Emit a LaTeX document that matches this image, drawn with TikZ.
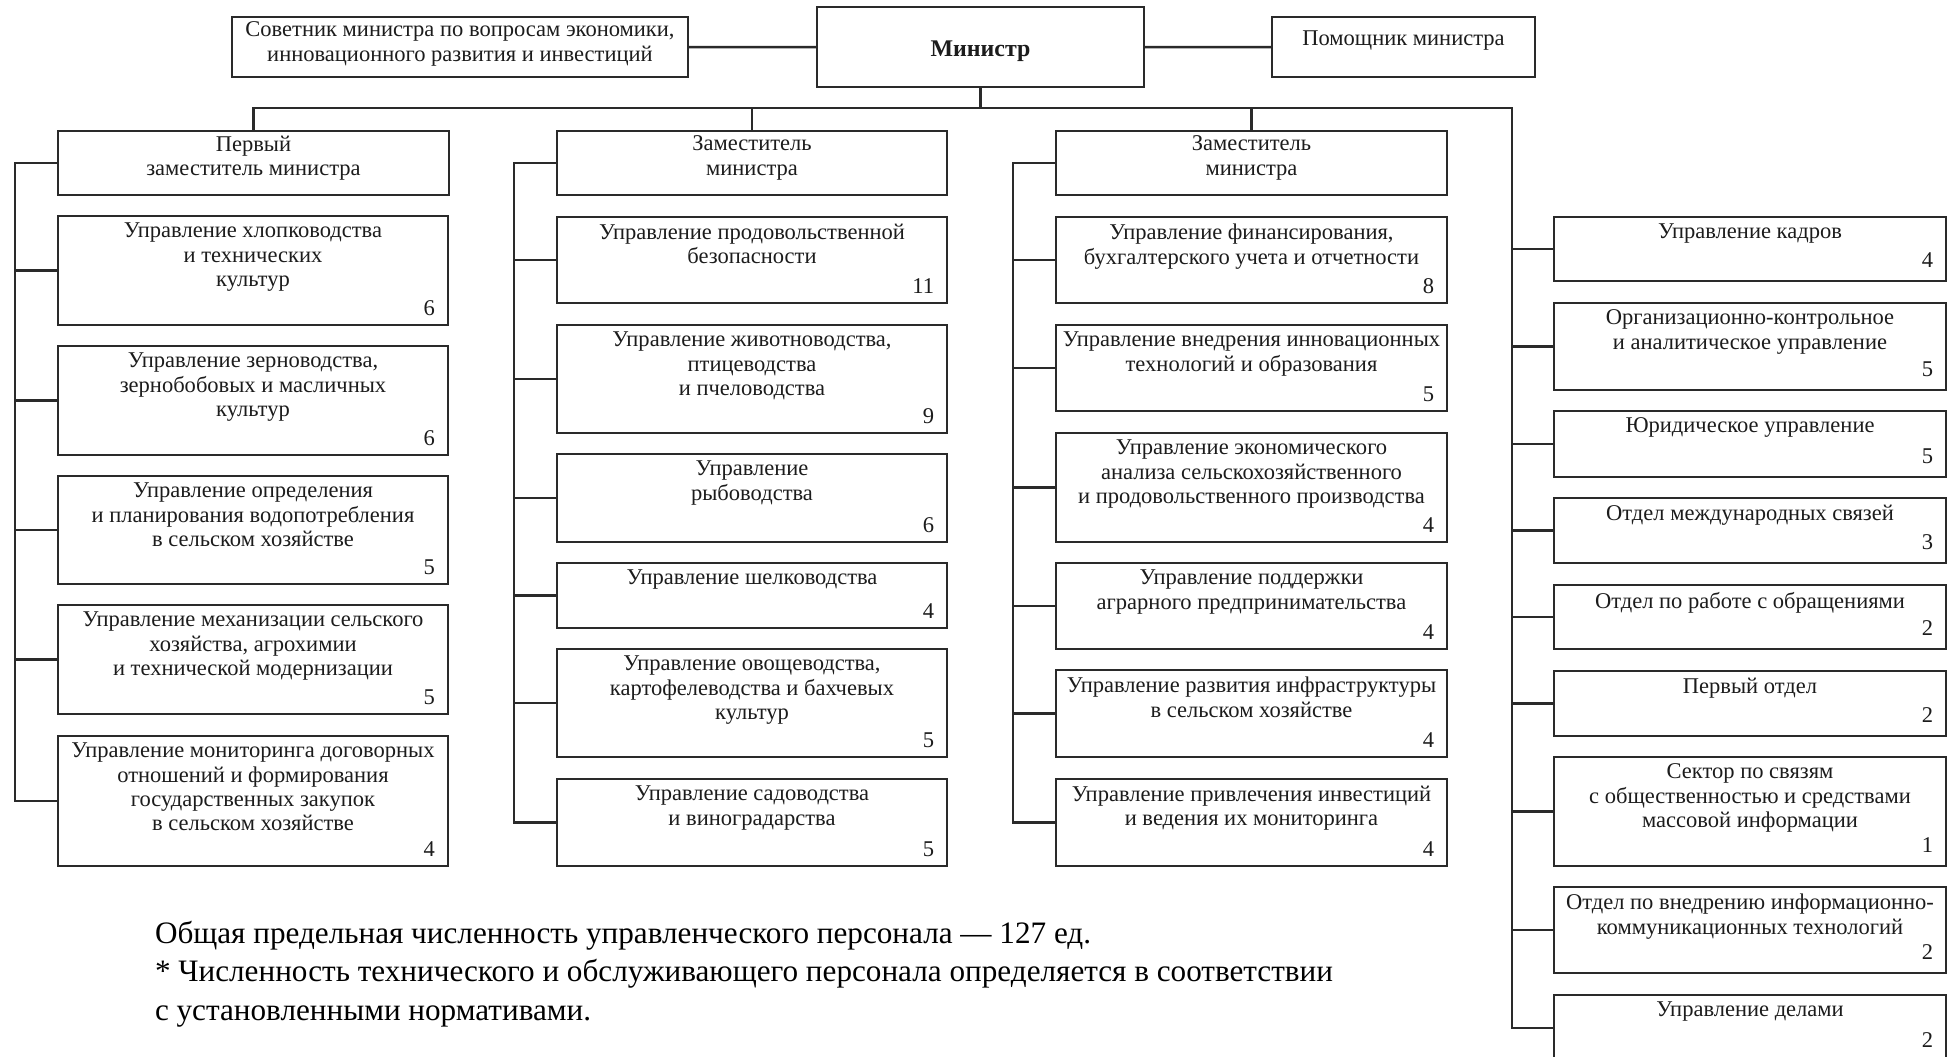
\documentclass[tikz,border=0pt]{standalone}
\usepackage{fontspec}
\setmainfont{Liberation Serif}
\definecolor{lc}{HTML}{2A2A2A}
\definecolor{tc}{HTML}{1C1C1C}
\newcommand\numoff{10}
% box with text and number: name, x1, y1, x2, y2, text, number
\newcommand\ubox[7]{%
  \node[box, anchor=north west, minimum width={(#4-#2)*1bp}, minimum height={(#5-#3)*1bp}] (#1) at (#2,#3) {};
  \node[btext] (#1-t) at ([yshift=-7bp]#1.north) {#6};
  \node[bnum] (#1-n) at ([xshift=-13bp,yshift=\numoff bp]#1.south east) {#7};
}
% header box without number
\newcommand\hdbox[6]{%
  \node[box, anchor=north west, minimum width={(#4-#2)*1bp}, minimum height={(#5-#3)*1bp}] (#1) at (#2,#3) {};
  \node[btext] (#1-t) at ([yshift=-5bp]#1.north) {#6};
}
\begin{document}
\begin{tikzpicture}[x=1bp,y=-1bp,
  every node/.style={inner sep=0pt, outer sep=0pt},
  box/.style={draw=lc, line width=2.5bp, rectangle, fill=white},
  btext/.style={font=\fontsize{22.6}{24.5}\selectfont, align=center, anchor=north, text=tc},
  bnum/.style={font=\fontsize{22.6}{24.5}\selectfont, anchor=base east, text=tc},
  conn/.style={draw=lc, line width=2.5bp}]
\useasboundingbox (0,0) rectangle (1950,1056);
\clip (0,0) rectangle (1950,1056);
\fill[white] (0,0) rectangle (1950,1056);

% top row
\hdbox{sov}{232}{17}{688}{77}{Советник министра по вопросам экономики,\\инновационного развития и инвестиций}
\node[box, anchor=north west, minimum width=327bp, minimum height=80bp] (min) at (817,7) {};
\node[font=\bfseries\fontsize{24}{26}\selectfont, text=tc] (min-t) at ([yshift=-4bp]min.center) {Министр};
\node[box, anchor=north west, minimum width=263bp, minimum height=60bp] (pom) at (1272,17) {};
\node[btext, anchor=base] (pom-t) at (pom.north |- 0,45) {Помощник министра};

% deputies
\hdbox{dep1}{58}{131}{449}{195}{Первый\\заместитель министра}
\hdbox{dep2}{557}{131}{947}{195}{Заместитель\\министра}
\hdbox{dep3}{1056}{131}{1447}{195}{Заместитель\\министра}

% column 1
\ubox{a1}{58}{216}{448}{325}{Управление хлопководства\\и технических\\культур}{6}
\ubox{a2}{58}{346}{448}{455}{Управление зерноводства,\\зернобобовых и масличных\\культур}{6}
\ubox{a3}{58}{476}{448}{584}{Управление определения\\и планирования водопотребления\\в сельском хозяйстве}{5}
\ubox{a4}{58}{605}{448}{714}{Управление механизации сельского\\хозяйства, агрохимии\\и технической модернизации}{5}
\ubox{a5}{58}{736}{448}{866}{Управление мониторинга договорных\\отношений и формирования\\государственных закупок\\в сельском хозяйстве}{4}

% column 2
\ubox{b1}{557}{217}{947}{303}{Управление продовольственной\\безопасности}{11}
\ubox{b2}{557}{325}{947}{433}{Управление животноводства,\\птицеводства\\и пчеловодства}{9}
\ubox{b3}{557}{454}{947}{542}{Управление\\рыбоводства}{6}
\ubox{b4}{557}{563}{947}{628}{Управление шелководства}{4}
\ubox{b5}{557}{649}{947}{757}{Управление овощеводства,\\картофелеводства и бахчевых\\культур}{5}
\ubox{b6}{557}{779}{947}{866}{Управление садоводства\\и виноградарства}{5}

% column 3
\ubox{c1}{1056}{217}{1447}{303}{Управление финансирования,\\бухгалтерского учета и отчетности}{8}
\ubox{c2}{1056}{325}{1447}{411}{Управление внедрения инновационных\\технологий и образования}{5}
\ubox{c3}{1056}{433}{1447}{542}{Управление экономического\\анализа сельскохозяйственного\\и продовольственного производства}{4}
\ubox{c4}{1056}{563}{1447}{649}{Управление поддержки\\аграрного предпринимательства}{4}
\ubox{c5}{1056}{670}{1447}{757}{Управление развития инфраструктуры\\в сельском хозяйстве}{4}
\ubox{c6}{1056}{779}{1447}{866}{Управление привлечения инвестиций\\и ведения их мониторинга}{4}

% right column
\renewcommand\numoff{14}
\ubox{d1}{1554}{217}{1946}{281}{Управление кадров}{4}
\ubox{d2}{1554}{303}{1946}{390}{Организационно-контрольное\\и аналитическое управление}{5}
\ubox{d3}{1554}{411}{1946}{477}{Юридическое управление}{5}
\ubox{d4}{1554}{498}{1946}{563}{Отдел международных связей}{3}
\ubox{d5}{1554}{585}{1946}{649}{Отдел по работе с обращениями}{2}
\ubox{d6}{1554}{671}{1946}{736}{Первый отдел}{2}
\ubox{d7}{1554}{757}{1946}{866}{Сектор по связям\\с общественностью и средствами\\массовой информации}{1}
\ubox{d8}{1554}{887}{1946}{973}{Отдел по внедрению информационно-\\коммуникационных технологий}{2}
\ubox{d9}{1554}{995}{1946}{1061}{Управление делами}{2}

% connectors, top
\draw[conn] (sov.east) -- (min.west);
\draw[conn] (min.east) -- (pom.west);
\coordinate (jR) at (1512,108);
\draw[conn] (min.south) -- (min.south |- jR);
\draw[conn] (dep1.north) |- (jR) -- (jR |- d9.west) -- (d9.west);
\draw[conn] (dep2.north) -- (dep2.north |- jR);
\draw[conn] (dep3.north) -- (dep3.north |- jR);

% column spines
\coordinate (s1) at (15,0);
\coordinate (s2) at (514,0);
\coordinate (s3) at (1013,0);
\draw[conn] (dep1.west) -- (dep1.west -| s1) |- (a5.west);
\foreach \n in {a1,a2,a3,a4} \draw[conn] (\n.west) -- (\n.west -| s1);
\draw[conn] (dep2.west) -- (dep2.west -| s2) |- (b6.west);
\foreach \n in {b1,b2,b3,b4,b5} \draw[conn] (\n.west) -- (\n.west -| s2);
\draw[conn] (dep3.west) -- (dep3.west -| s3) |- (c6.west);
\foreach \n in {c1,c2,c3,c4,c5} \draw[conn] (\n.west) -- (\n.west -| s3);
\foreach \n in {d1,d2,d3,d4,d5,d6,d7,d8} \draw[conn] (\n.west) -- (\n.west -| jR);

% footnote
\node[anchor=north west, align=left, text=black, font=\fontsize{31.3}{38.5}\selectfont] (note) at (155,921)
  {Общая предельная численность управленческого персонала — 127 ед.\\
   * Численность технического и обслуживающего персонала определяется в соответствии\\
   с установленными нормативами.};
\end{tikzpicture}
\end{document}
